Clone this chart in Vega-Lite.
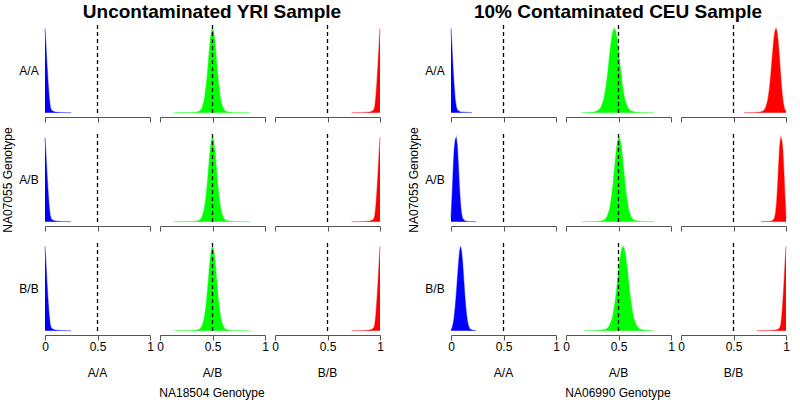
{
  "$schema": "https://vega.github.io/schema/vega-lite/v6.json",
  "background": "white",
  "padding": {"left": 1, "top": 3, "right": 4, "bottom": 2},
  "config": {"font": "Liberation Sans", "view": {"stroke": null}},
  "spacing": 23,
  "datasets": {
    "d": [
      {"s":"L","r":"A/A","c":"A/A","x":0,"y":1},{"s":"L","r":"A/A","c":"A/A","x":0.01,"y":0.78},{"s":"L","r":"A/A","c":"A/A","x":0.02,"y":0.55},{"s":"L","r":"A/A","c":"A/A","x":0.03,"y":0.35},{"s":"L","r":"A/A","c":"A/A","x":0.04,"y":0.18},{"s":"L","r":"A/A","c":"A/A","x":0.05,"y":0.07},{"s":"L","r":"A/A","c":"A/A","x":0.06,"y":0.03},{"s":"L","r":"A/A","c":"A/A","x":0.08,"y":0.012},{"s":"L","r":"A/A","c":"A/A","x":0.1,"y":0.006},{"s":"L","r":"A/A","c":"A/A","x":0.15,"y":0.002},{"s":"L","r":"A/A","c":"A/A","x":0.25,"y":0},
      {"s":"L","r":"A/A","c":"A/B","x":0.13,"y":0},{"s":"L","r":"A/A","c":"A/B","x":0.2,"y":0.001},{"s":"L","r":"A/A","c":"A/B","x":0.3,"y":0.002},{"s":"L","r":"A/A","c":"A/B","x":0.35,"y":0.007},{"s":"L","r":"A/A","c":"A/B","x":0.38,"y":0.02},{"s":"L","r":"A/A","c":"A/B","x":0.4,"y":0.055},{"s":"L","r":"A/A","c":"A/B","x":0.42,"y":0.14},{"s":"L","r":"A/A","c":"A/B","x":0.43,"y":0.22},{"s":"L","r":"A/A","c":"A/B","x":0.44,"y":0.32},{"s":"L","r":"A/A","c":"A/B","x":0.45,"y":0.45},{"s":"L","r":"A/A","c":"A/B","x":0.46,"y":0.6},{"s":"L","r":"A/A","c":"A/B","x":0.47,"y":0.75},{"s":"L","r":"A/A","c":"A/B","x":0.48,"y":0.88},{"s":"L","r":"A/A","c":"A/B","x":0.49,"y":0.97},{"s":"L","r":"A/A","c":"A/B","x":0.5,"y":1},{"s":"L","r":"A/A","c":"A/B","x":0.51,"y":0.97},{"s":"L","r":"A/A","c":"A/B","x":0.52,"y":0.88},{"s":"L","r":"A/A","c":"A/B","x":0.53,"y":0.75},{"s":"L","r":"A/A","c":"A/B","x":0.54,"y":0.6},{"s":"L","r":"A/A","c":"A/B","x":0.55,"y":0.45},{"s":"L","r":"A/A","c":"A/B","x":0.56,"y":0.32},{"s":"L","r":"A/A","c":"A/B","x":0.57,"y":0.22},{"s":"L","r":"A/A","c":"A/B","x":0.58,"y":0.14},{"s":"L","r":"A/A","c":"A/B","x":0.6,"y":0.055},{"s":"L","r":"A/A","c":"A/B","x":0.62,"y":0.02},{"s":"L","r":"A/A","c":"A/B","x":0.65,"y":0.007},{"s":"L","r":"A/A","c":"A/B","x":0.7,"y":0.002},{"s":"L","r":"A/A","c":"A/B","x":0.86,"y":0},
      {"s":"L","r":"A/A","c":"B/B","x":0.73,"y":0},{"s":"L","r":"A/A","c":"B/B","x":0.85,"y":0.002},{"s":"L","r":"A/A","c":"B/B","x":0.9,"y":0.006},{"s":"L","r":"A/A","c":"B/B","x":0.92,"y":0.012},{"s":"L","r":"A/A","c":"B/B","x":0.94,"y":0.03},{"s":"L","r":"A/A","c":"B/B","x":0.95,"y":0.07},{"s":"L","r":"A/A","c":"B/B","x":0.96,"y":0.18},{"s":"L","r":"A/A","c":"B/B","x":0.97,"y":0.35},{"s":"L","r":"A/A","c":"B/B","x":0.98,"y":0.55},{"s":"L","r":"A/A","c":"B/B","x":0.99,"y":0.78},{"s":"L","r":"A/A","c":"B/B","x":1,"y":1},

      {"s":"L","r":"A/B","c":"A/A","x":0,"y":1},{"s":"L","r":"A/B","c":"A/A","x":0.01,"y":0.78},{"s":"L","r":"A/B","c":"A/A","x":0.02,"y":0.55},{"s":"L","r":"A/B","c":"A/A","x":0.03,"y":0.35},{"s":"L","r":"A/B","c":"A/A","x":0.04,"y":0.18},{"s":"L","r":"A/B","c":"A/A","x":0.05,"y":0.07},{"s":"L","r":"A/B","c":"A/A","x":0.06,"y":0.03},{"s":"L","r":"A/B","c":"A/A","x":0.08,"y":0.012},{"s":"L","r":"A/B","c":"A/A","x":0.1,"y":0.006},{"s":"L","r":"A/B","c":"A/A","x":0.15,"y":0.002},{"s":"L","r":"A/B","c":"A/A","x":0.25,"y":0},
      {"s":"L","r":"A/B","c":"A/B","x":0.13,"y":0},{"s":"L","r":"A/B","c":"A/B","x":0.2,"y":0.001},{"s":"L","r":"A/B","c":"A/B","x":0.3,"y":0.002},{"s":"L","r":"A/B","c":"A/B","x":0.35,"y":0.007},{"s":"L","r":"A/B","c":"A/B","x":0.38,"y":0.02},{"s":"L","r":"A/B","c":"A/B","x":0.4,"y":0.055},{"s":"L","r":"A/B","c":"A/B","x":0.42,"y":0.14},{"s":"L","r":"A/B","c":"A/B","x":0.43,"y":0.22},{"s":"L","r":"A/B","c":"A/B","x":0.44,"y":0.32},{"s":"L","r":"A/B","c":"A/B","x":0.45,"y":0.45},{"s":"L","r":"A/B","c":"A/B","x":0.46,"y":0.6},{"s":"L","r":"A/B","c":"A/B","x":0.47,"y":0.75},{"s":"L","r":"A/B","c":"A/B","x":0.48,"y":0.88},{"s":"L","r":"A/B","c":"A/B","x":0.49,"y":0.97},{"s":"L","r":"A/B","c":"A/B","x":0.5,"y":1},{"s":"L","r":"A/B","c":"A/B","x":0.51,"y":0.97},{"s":"L","r":"A/B","c":"A/B","x":0.52,"y":0.88},{"s":"L","r":"A/B","c":"A/B","x":0.53,"y":0.75},{"s":"L","r":"A/B","c":"A/B","x":0.54,"y":0.6},{"s":"L","r":"A/B","c":"A/B","x":0.55,"y":0.45},{"s":"L","r":"A/B","c":"A/B","x":0.56,"y":0.32},{"s":"L","r":"A/B","c":"A/B","x":0.57,"y":0.22},{"s":"L","r":"A/B","c":"A/B","x":0.58,"y":0.14},{"s":"L","r":"A/B","c":"A/B","x":0.6,"y":0.055},{"s":"L","r":"A/B","c":"A/B","x":0.62,"y":0.02},{"s":"L","r":"A/B","c":"A/B","x":0.65,"y":0.007},{"s":"L","r":"A/B","c":"A/B","x":0.7,"y":0.002},{"s":"L","r":"A/B","c":"A/B","x":0.86,"y":0},
      {"s":"L","r":"A/B","c":"B/B","x":0.73,"y":0},{"s":"L","r":"A/B","c":"B/B","x":0.85,"y":0.002},{"s":"L","r":"A/B","c":"B/B","x":0.9,"y":0.006},{"s":"L","r":"A/B","c":"B/B","x":0.92,"y":0.012},{"s":"L","r":"A/B","c":"B/B","x":0.94,"y":0.03},{"s":"L","r":"A/B","c":"B/B","x":0.95,"y":0.07},{"s":"L","r":"A/B","c":"B/B","x":0.96,"y":0.18},{"s":"L","r":"A/B","c":"B/B","x":0.97,"y":0.35},{"s":"L","r":"A/B","c":"B/B","x":0.98,"y":0.55},{"s":"L","r":"A/B","c":"B/B","x":0.99,"y":0.78},{"s":"L","r":"A/B","c":"B/B","x":1,"y":1},

      {"s":"L","r":"B/B","c":"A/A","x":0,"y":1},{"s":"L","r":"B/B","c":"A/A","x":0.01,"y":0.78},{"s":"L","r":"B/B","c":"A/A","x":0.02,"y":0.55},{"s":"L","r":"B/B","c":"A/A","x":0.03,"y":0.35},{"s":"L","r":"B/B","c":"A/A","x":0.04,"y":0.18},{"s":"L","r":"B/B","c":"A/A","x":0.05,"y":0.07},{"s":"L","r":"B/B","c":"A/A","x":0.06,"y":0.03},{"s":"L","r":"B/B","c":"A/A","x":0.08,"y":0.012},{"s":"L","r":"B/B","c":"A/A","x":0.1,"y":0.006},{"s":"L","r":"B/B","c":"A/A","x":0.15,"y":0.002},{"s":"L","r":"B/B","c":"A/A","x":0.25,"y":0},
      {"s":"L","r":"B/B","c":"A/B","x":0.13,"y":0},{"s":"L","r":"B/B","c":"A/B","x":0.2,"y":0.001},{"s":"L","r":"B/B","c":"A/B","x":0.3,"y":0.002},{"s":"L","r":"B/B","c":"A/B","x":0.35,"y":0.007},{"s":"L","r":"B/B","c":"A/B","x":0.38,"y":0.02},{"s":"L","r":"B/B","c":"A/B","x":0.4,"y":0.055},{"s":"L","r":"B/B","c":"A/B","x":0.42,"y":0.14},{"s":"L","r":"B/B","c":"A/B","x":0.43,"y":0.22},{"s":"L","r":"B/B","c":"A/B","x":0.44,"y":0.32},{"s":"L","r":"B/B","c":"A/B","x":0.45,"y":0.45},{"s":"L","r":"B/B","c":"A/B","x":0.46,"y":0.6},{"s":"L","r":"B/B","c":"A/B","x":0.47,"y":0.75},{"s":"L","r":"B/B","c":"A/B","x":0.48,"y":0.88},{"s":"L","r":"B/B","c":"A/B","x":0.49,"y":0.97},{"s":"L","r":"B/B","c":"A/B","x":0.5,"y":1},{"s":"L","r":"B/B","c":"A/B","x":0.51,"y":0.97},{"s":"L","r":"B/B","c":"A/B","x":0.52,"y":0.88},{"s":"L","r":"B/B","c":"A/B","x":0.53,"y":0.75},{"s":"L","r":"B/B","c":"A/B","x":0.54,"y":0.6},{"s":"L","r":"B/B","c":"A/B","x":0.55,"y":0.45},{"s":"L","r":"B/B","c":"A/B","x":0.56,"y":0.32},{"s":"L","r":"B/B","c":"A/B","x":0.57,"y":0.22},{"s":"L","r":"B/B","c":"A/B","x":0.58,"y":0.14},{"s":"L","r":"B/B","c":"A/B","x":0.6,"y":0.055},{"s":"L","r":"B/B","c":"A/B","x":0.62,"y":0.02},{"s":"L","r":"B/B","c":"A/B","x":0.65,"y":0.007},{"s":"L","r":"B/B","c":"A/B","x":0.7,"y":0.002},{"s":"L","r":"B/B","c":"A/B","x":0.86,"y":0},
      {"s":"L","r":"B/B","c":"B/B","x":0.73,"y":0},{"s":"L","r":"B/B","c":"B/B","x":0.85,"y":0.002},{"s":"L","r":"B/B","c":"B/B","x":0.9,"y":0.006},{"s":"L","r":"B/B","c":"B/B","x":0.92,"y":0.012},{"s":"L","r":"B/B","c":"B/B","x":0.94,"y":0.03},{"s":"L","r":"B/B","c":"B/B","x":0.95,"y":0.07},{"s":"L","r":"B/B","c":"B/B","x":0.96,"y":0.18},{"s":"L","r":"B/B","c":"B/B","x":0.97,"y":0.35},{"s":"L","r":"B/B","c":"B/B","x":0.98,"y":0.55},{"s":"L","r":"B/B","c":"B/B","x":0.99,"y":0.78},{"s":"L","r":"B/B","c":"B/B","x":1,"y":1},

      {"s":"R","r":"A/A","c":"A/A","x":0,"y":1},{"s":"R","r":"A/A","c":"A/A","x":0.01,"y":0.76},{"s":"R","r":"A/A","c":"A/A","x":0.02,"y":0.52},{"s":"R","r":"A/A","c":"A/A","x":0.03,"y":0.32},{"s":"R","r":"A/A","c":"A/A","x":0.04,"y":0.16},{"s":"R","r":"A/A","c":"A/A","x":0.05,"y":0.07},{"s":"R","r":"A/A","c":"A/A","x":0.06,"y":0.03},{"s":"R","r":"A/A","c":"A/A","x":0.08,"y":0.012},{"s":"R","r":"A/A","c":"A/A","x":0.1,"y":0.005},{"s":"R","r":"A/A","c":"A/A","x":0.2,"y":0},
      {"s":"R","r":"A/A","c":"A/B","x":0.145,"y":0},{"s":"R","r":"A/A","c":"A/B","x":0.2,"y":0.002},{"s":"R","r":"A/A","c":"A/B","x":0.265,"y":0.007},{"s":"R","r":"A/A","c":"A/B","x":0.3,"y":0.02},{"s":"R","r":"A/A","c":"A/B","x":0.33,"y":0.055},{"s":"R","r":"A/A","c":"A/B","x":0.356,"y":0.14},{"s":"R","r":"A/A","c":"A/B","x":0.369,"y":0.22},{"s":"R","r":"A/A","c":"A/B","x":0.382,"y":0.32},{"s":"R","r":"A/A","c":"A/B","x":0.395,"y":0.45},{"s":"R","r":"A/A","c":"A/B","x":0.408,"y":0.6},{"s":"R","r":"A/A","c":"A/B","x":0.421,"y":0.75},{"s":"R","r":"A/A","c":"A/B","x":0.434,"y":0.88},{"s":"R","r":"A/A","c":"A/B","x":0.447,"y":0.97},{"s":"R","r":"A/A","c":"A/B","x":0.46,"y":1},{"s":"R","r":"A/A","c":"A/B","x":0.473,"y":0.97},{"s":"R","r":"A/A","c":"A/B","x":0.486,"y":0.88},{"s":"R","r":"A/A","c":"A/B","x":0.499,"y":0.75},{"s":"R","r":"A/A","c":"A/B","x":0.512,"y":0.6},{"s":"R","r":"A/A","c":"A/B","x":0.525,"y":0.45},{"s":"R","r":"A/A","c":"A/B","x":0.538,"y":0.32},{"s":"R","r":"A/A","c":"A/B","x":0.551,"y":0.22},{"s":"R","r":"A/A","c":"A/B","x":0.564,"y":0.14},{"s":"R","r":"A/A","c":"A/B","x":0.59,"y":0.055},{"s":"R","r":"A/A","c":"A/B","x":0.616,"y":0.02},{"s":"R","r":"A/A","c":"A/B","x":0.655,"y":0.007},{"s":"R","r":"A/A","c":"A/B","x":0.72,"y":0.002},{"s":"R","r":"A/A","c":"A/B","x":0.84,"y":0},
      {"s":"R","r":"A/A","c":"B/B","x":0.6,"y":0},{"s":"R","r":"A/A","c":"B/B","x":0.705,"y":0.002},{"s":"R","r":"A/A","c":"B/B","x":0.755,"y":0.007},{"s":"R","r":"A/A","c":"B/B","x":0.785,"y":0.02},{"s":"R","r":"A/A","c":"B/B","x":0.805,"y":0.055},{"s":"R","r":"A/A","c":"B/B","x":0.825,"y":0.14},{"s":"R","r":"A/A","c":"B/B","x":0.835,"y":0.22},{"s":"R","r":"A/A","c":"B/B","x":0.845,"y":0.32},{"s":"R","r":"A/A","c":"B/B","x":0.855,"y":0.45},{"s":"R","r":"A/A","c":"B/B","x":0.865,"y":0.6},{"s":"R","r":"A/A","c":"B/B","x":0.875,"y":0.75},{"s":"R","r":"A/A","c":"B/B","x":0.885,"y":0.88},{"s":"R","r":"A/A","c":"B/B","x":0.895,"y":0.97},{"s":"R","r":"A/A","c":"B/B","x":0.905,"y":1},{"s":"R","r":"A/A","c":"B/B","x":0.915,"y":0.96},{"s":"R","r":"A/A","c":"B/B","x":0.925,"y":0.85},{"s":"R","r":"A/A","c":"B/B","x":0.935,"y":0.7},{"s":"R","r":"A/A","c":"B/B","x":0.945,"y":0.52},{"s":"R","r":"A/A","c":"B/B","x":0.955,"y":0.35},{"s":"R","r":"A/A","c":"B/B","x":0.965,"y":0.21},{"s":"R","r":"A/A","c":"B/B","x":0.975,"y":0.11},{"s":"R","r":"A/A","c":"B/B","x":0.985,"y":0.05},{"s":"R","r":"A/A","c":"B/B","x":1,"y":0.01},

      {"s":"R","r":"A/B","c":"A/A","x":0,"y":0.05},{"s":"R","r":"A/B","c":"A/A","x":0.01,"y":0.3},{"s":"R","r":"A/B","c":"A/A","x":0.02,"y":0.6},{"s":"R","r":"A/B","c":"A/A","x":0.03,"y":0.85},{"s":"R","r":"A/B","c":"A/A","x":0.04,"y":0.97},{"s":"R","r":"A/B","c":"A/A","x":0.05,"y":1},{"s":"R","r":"A/B","c":"A/A","x":0.06,"y":0.9},{"s":"R","r":"A/B","c":"A/A","x":0.07,"y":0.68},{"s":"R","r":"A/B","c":"A/A","x":0.08,"y":0.42},{"s":"R","r":"A/B","c":"A/A","x":0.09,"y":0.22},{"s":"R","r":"A/B","c":"A/A","x":0.1,"y":0.1},{"s":"R","r":"A/B","c":"A/A","x":0.11,"y":0.04},{"s":"R","r":"A/B","c":"A/A","x":0.13,"y":0.01},{"s":"R","r":"A/B","c":"A/A","x":0.16,"y":0.003},{"s":"R","r":"A/B","c":"A/A","x":0.24,"y":0},
      {"s":"R","r":"A/B","c":"A/B","x":0.15,"y":0},{"s":"R","r":"A/B","c":"A/B","x":0.275,"y":0.002},{"s":"R","r":"A/B","c":"A/B","x":0.333,"y":0.007},{"s":"R","r":"A/B","c":"A/B","x":0.367,"y":0.02},{"s":"R","r":"A/B","c":"A/B","x":0.39,"y":0.055},{"s":"R","r":"A/B","c":"A/B","x":0.413,"y":0.14},{"s":"R","r":"A/B","c":"A/B","x":0.425,"y":0.22},{"s":"R","r":"A/B","c":"A/B","x":0.436,"y":0.32},{"s":"R","r":"A/B","c":"A/B","x":0.448,"y":0.45},{"s":"R","r":"A/B","c":"A/B","x":0.459,"y":0.6},{"s":"R","r":"A/B","c":"A/B","x":0.471,"y":0.75},{"s":"R","r":"A/B","c":"A/B","x":0.482,"y":0.88},{"s":"R","r":"A/B","c":"A/B","x":0.494,"y":0.97},{"s":"R","r":"A/B","c":"A/B","x":0.505,"y":1},{"s":"R","r":"A/B","c":"A/B","x":0.517,"y":0.97},{"s":"R","r":"A/B","c":"A/B","x":0.528,"y":0.88},{"s":"R","r":"A/B","c":"A/B","x":0.54,"y":0.75},{"s":"R","r":"A/B","c":"A/B","x":0.551,"y":0.6},{"s":"R","r":"A/B","c":"A/B","x":0.563,"y":0.45},{"s":"R","r":"A/B","c":"A/B","x":0.574,"y":0.32},{"s":"R","r":"A/B","c":"A/B","x":0.586,"y":0.22},{"s":"R","r":"A/B","c":"A/B","x":0.597,"y":0.14},{"s":"R","r":"A/B","c":"A/B","x":0.62,"y":0.055},{"s":"R","r":"A/B","c":"A/B","x":0.643,"y":0.02},{"s":"R","r":"A/B","c":"A/B","x":0.678,"y":0.007},{"s":"R","r":"A/B","c":"A/B","x":0.735,"y":0.002},{"s":"R","r":"A/B","c":"A/B","x":0.84,"y":0},
      {"s":"R","r":"A/B","c":"B/B","x":0.76,"y":0},{"s":"R","r":"A/B","c":"B/B","x":0.84,"y":0.003},{"s":"R","r":"A/B","c":"B/B","x":0.87,"y":0.01},{"s":"R","r":"A/B","c":"B/B","x":0.89,"y":0.04},{"s":"R","r":"A/B","c":"B/B","x":0.9,"y":0.1},{"s":"R","r":"A/B","c":"B/B","x":0.91,"y":0.22},{"s":"R","r":"A/B","c":"B/B","x":0.92,"y":0.42},{"s":"R","r":"A/B","c":"B/B","x":0.93,"y":0.68},{"s":"R","r":"A/B","c":"B/B","x":0.94,"y":0.9},{"s":"R","r":"A/B","c":"B/B","x":0.95,"y":1},{"s":"R","r":"A/B","c":"B/B","x":0.96,"y":0.97},{"s":"R","r":"A/B","c":"B/B","x":0.97,"y":0.85},{"s":"R","r":"A/B","c":"B/B","x":0.98,"y":0.6},{"s":"R","r":"A/B","c":"B/B","x":0.99,"y":0.3},{"s":"R","r":"A/B","c":"B/B","x":1,"y":0.05},

      {"s":"R","r":"B/B","c":"A/A","x":0,"y":0.01},{"s":"R","r":"B/B","c":"A/A","x":0.01,"y":0.03},{"s":"R","r":"B/B","c":"A/A","x":0.02,"y":0.08},{"s":"R","r":"B/B","c":"A/A","x":0.03,"y":0.16},{"s":"R","r":"B/B","c":"A/A","x":0.04,"y":0.28},{"s":"R","r":"B/B","c":"A/A","x":0.05,"y":0.43},{"s":"R","r":"B/B","c":"A/A","x":0.06,"y":0.6},{"s":"R","r":"B/B","c":"A/A","x":0.07,"y":0.77},{"s":"R","r":"B/B","c":"A/A","x":0.08,"y":0.92},{"s":"R","r":"B/B","c":"A/A","x":0.09,"y":1},{"s":"R","r":"B/B","c":"A/A","x":0.1,"y":0.95},{"s":"R","r":"B/B","c":"A/A","x":0.11,"y":0.82},{"s":"R","r":"B/B","c":"A/A","x":0.12,"y":0.64},{"s":"R","r":"B/B","c":"A/A","x":0.13,"y":0.45},{"s":"R","r":"B/B","c":"A/A","x":0.14,"y":0.29},{"s":"R","r":"B/B","c":"A/A","x":0.15,"y":0.17},{"s":"R","r":"B/B","c":"A/A","x":0.16,"y":0.09},{"s":"R","r":"B/B","c":"A/A","x":0.17,"y":0.045},{"s":"R","r":"B/B","c":"A/A","x":0.18,"y":0.02},{"s":"R","r":"B/B","c":"A/A","x":0.2,"y":0.006},{"s":"R","r":"B/B","c":"A/A","x":0.24,"y":0},
      {"s":"R","r":"B/B","c":"A/B","x":0.17,"y":0},{"s":"R","r":"B/B","c":"A/B","x":0.283,"y":0.002},{"s":"R","r":"B/B","c":"A/B","x":0.348,"y":0.007},{"s":"R","r":"B/B","c":"A/B","x":0.387,"y":0.02},{"s":"R","r":"B/B","c":"A/B","x":0.413,"y":0.055},{"s":"R","r":"B/B","c":"A/B","x":0.439,"y":0.14},{"s":"R","r":"B/B","c":"A/B","x":0.452,"y":0.22},{"s":"R","r":"B/B","c":"A/B","x":0.465,"y":0.32},{"s":"R","r":"B/B","c":"A/B","x":0.478,"y":0.45},{"s":"R","r":"B/B","c":"A/B","x":0.491,"y":0.6},{"s":"R","r":"B/B","c":"A/B","x":0.504,"y":0.75},{"s":"R","r":"B/B","c":"A/B","x":0.517,"y":0.88},{"s":"R","r":"B/B","c":"A/B","x":0.53,"y":0.97},{"s":"R","r":"B/B","c":"A/B","x":0.543,"y":1},{"s":"R","r":"B/B","c":"A/B","x":0.556,"y":0.97},{"s":"R","r":"B/B","c":"A/B","x":0.569,"y":0.88},{"s":"R","r":"B/B","c":"A/B","x":0.582,"y":0.75},{"s":"R","r":"B/B","c":"A/B","x":0.595,"y":0.6},{"s":"R","r":"B/B","c":"A/B","x":0.608,"y":0.45},{"s":"R","r":"B/B","c":"A/B","x":0.621,"y":0.32},{"s":"R","r":"B/B","c":"A/B","x":0.634,"y":0.22},{"s":"R","r":"B/B","c":"A/B","x":0.647,"y":0.14},{"s":"R","r":"B/B","c":"A/B","x":0.673,"y":0.055},{"s":"R","r":"B/B","c":"A/B","x":0.699,"y":0.02},{"s":"R","r":"B/B","c":"A/B","x":0.738,"y":0.007},{"s":"R","r":"B/B","c":"A/B","x":0.803,"y":0.002},{"s":"R","r":"B/B","c":"A/B","x":0.83,"y":0},
      {"s":"R","r":"B/B","c":"B/B","x":0.72,"y":0},{"s":"R","r":"B/B","c":"B/B","x":0.85,"y":0.002},{"s":"R","r":"B/B","c":"B/B","x":0.9,"y":0.006},{"s":"R","r":"B/B","c":"B/B","x":0.92,"y":0.012},{"s":"R","r":"B/B","c":"B/B","x":0.94,"y":0.03},{"s":"R","r":"B/B","c":"B/B","x":0.95,"y":0.07},{"s":"R","r":"B/B","c":"B/B","x":0.96,"y":0.18},{"s":"R","r":"B/B","c":"B/B","x":0.97,"y":0.35},{"s":"R","r":"B/B","c":"B/B","x":0.98,"y":0.55},{"s":"R","r":"B/B","c":"B/B","x":0.99,"y":0.78},{"s":"R","r":"B/B","c":"B/B","x":1,"y":1}
    ]
  },
  "hconcat": [
    {
      "spacing": 3,
      "vconcat": [
        {
          "data": {"name": "d"},
          "transform": [{"filter": "datum.s == 'L' && datum.r == 'A/A'"}],
          "facet": {
            "row": {"field": "r", "type": "nominal", "title": "NA07055 Genotype", "header": {"labelAngle": 0, "labelAlign": "right", "labelFontSize": 12, "labelPadding": -16, "titleFontSize": 12, "titleFontWeight": "normal", "titleColor": "transparent", "titlePadding": -6}},
            "column": {"field": "c", "type": "nominal", "title": "Uncontaminated YRI Sample", "header": {"labels": false, "titleFontSize": 19, "titleFontWeight": "bold", "titlePadding": -8, "titleColor": "black"}}
          },
          "spacing": {"column": 7, "row": 0},
          "spec": {
            "width": 105, "height": 91,
            "layer": [
              {"mark": {"type": "area"}, "encoding": {
                "x": {"field": "x", "type": "quantitative", "scale": {"domain": [0, 1], "nice": false, "zero": false}, "axis": {"labels": false, "title": null, "values": [0, 0.5, 1], "grid": false, "domainColor": "#555", "tickColor": "#555", "tickSize": 5}},
                "y": {"field": "y", "type": "quantitative", "stack": null, "scale": {"domain": [-0.04, 1.04], "nice": false, "zero": false}, "axis": null},
                "y2": {"datum": 0},
                "color": {"field": "c", "type": "nominal", "scale": {"domain": ["A/A", "A/B", "B/B"], "range": ["#0000ff", "#00ff00", "#ff0000"]}, "legend": null}}},
              {"mark": {"type": "line", "strokeWidth": 1.2, "opacity": 0.4}, "encoding": {
                "x": {"field": "x", "type": "quantitative"},
                "y": {"field": "y", "type": "quantitative", "stack": null},
                "color": {"field": "c", "type": "nominal", "legend": null}}},
              {"transform": [{"aggregate": [{"op": "count", "as": "n"}], "groupby": ["r", "c"]}],
               "mark": {"type": "rule", "color": "black", "strokeDash": [4, 3], "strokeWidth": 1.3},
               "encoding": {"x": {"datum": 0.5}}}
            ]
          }
        },
        {
          "data": {"name": "d"},
          "transform": [{"filter": "datum.s == 'L' && datum.r == 'A/B'"}],
          "facet": {
            "row": {"field": "r", "type": "nominal", "title": "NA07055 Genotype", "header": {"labelAngle": 0, "labelAlign": "right", "labelFontSize": 12, "labelPadding": -16, "titleFontSize": 12, "titleFontWeight": "normal", "titleColor": "black", "titlePadding": -6}},
            "column": {"field": "c", "type": "nominal", "title": null, "header": {"labels": false}}
          },
          "spacing": {"column": 7, "row": 0},
          "spec": {
            "width": 105, "height": 91,
            "layer": [
              {"mark": {"type": "area"}, "encoding": {
                "x": {"field": "x", "type": "quantitative", "scale": {"domain": [0, 1], "nice": false, "zero": false}, "axis": {"labels": false, "title": null, "values": [0, 0.5, 1], "grid": false, "domainColor": "#555", "tickColor": "#555", "tickSize": 5}},
                "y": {"field": "y", "type": "quantitative", "stack": null, "scale": {"domain": [-0.04, 1.04], "nice": false, "zero": false}, "axis": null},
                "y2": {"datum": 0},
                "color": {"field": "c", "type": "nominal", "scale": {"domain": ["A/A", "A/B", "B/B"], "range": ["#0000ff", "#00ff00", "#ff0000"]}, "legend": null}}},
              {"mark": {"type": "line", "strokeWidth": 1.2, "opacity": 0.4}, "encoding": {
                "x": {"field": "x", "type": "quantitative"},
                "y": {"field": "y", "type": "quantitative", "stack": null},
                "color": {"field": "c", "type": "nominal", "legend": null}}},
              {"transform": [{"aggregate": [{"op": "count", "as": "n"}], "groupby": ["r", "c"]}],
               "mark": {"type": "rule", "color": "black", "strokeDash": [4, 3], "strokeWidth": 1.3},
               "encoding": {"x": {"datum": 0.5}}}
            ]
          }
        },
        {
          "data": {"name": "d"},
          "transform": [{"filter": "datum.s == 'L' && datum.r == 'B/B'"}],
          "facet": {
            "row": {"field": "r", "type": "nominal", "title": "NA07055 Genotype", "header": {"labelAngle": 0, "labelAlign": "right", "labelFontSize": 12, "labelPadding": -16, "titleFontSize": 12, "titleFontWeight": "normal", "titleColor": "transparent", "titlePadding": -6}},
            "column": {"field": "c", "type": "nominal", "title": "NA18504 Genotype", "header": {"labelOrient": "bottom", "titleOrient": "bottom", "labelFontSize": 12, "labelPadding": 16, "titleFontSize": 12, "titleFontWeight": "normal", "titlePadding": -1}}
          },
          "spacing": {"column": 7, "row": 0},
          "spec": {
            "width": 105, "height": 91,
            "layer": [
              {"mark": {"type": "area"}, "encoding": {
                "x": {"field": "x", "type": "quantitative", "scale": {"domain": [0, 1], "nice": false, "zero": false}, "axis": {"labels": true, "format": "~g", "labelFlush": false, "labelOverlap": false, "labelFontSize": 12, "labelColor": "black", "labelPadding": 1, "title": null, "values": [0, 0.5, 1], "grid": false, "domainColor": "#555", "tickColor": "#555", "tickSize": 5}},
                "y": {"field": "y", "type": "quantitative", "stack": null, "scale": {"domain": [-0.04, 1.04], "nice": false, "zero": false}, "axis": null},
                "y2": {"datum": 0},
                "color": {"field": "c", "type": "nominal", "scale": {"domain": ["A/A", "A/B", "B/B"], "range": ["#0000ff", "#00ff00", "#ff0000"]}, "legend": null}}},
              {"mark": {"type": "line", "strokeWidth": 1.2, "opacity": 0.4}, "encoding": {
                "x": {"field": "x", "type": "quantitative"},
                "y": {"field": "y", "type": "quantitative", "stack": null},
                "color": {"field": "c", "type": "nominal", "legend": null}}},
              {"transform": [{"aggregate": [{"op": "count", "as": "n"}], "groupby": ["r", "c"]}],
               "mark": {"type": "rule", "color": "black", "strokeDash": [4, 3], "strokeWidth": 1.3},
               "encoding": {"x": {"datum": 0.5}}}
            ]
          }
        }
      ]
    },
    {
      "spacing": 3,
      "vconcat": [
        {
          "data": {"name": "d"},
          "transform": [{"filter": "datum.s == 'R' && datum.r == 'A/A'"}],
          "facet": {
            "row": {"field": "r", "type": "nominal", "title": "NA07055 Genotype", "header": {"labelAngle": 0, "labelAlign": "right", "labelFontSize": 12, "labelPadding": -16, "titleFontSize": 12, "titleFontWeight": "normal", "titleColor": "transparent", "titlePadding": -6}},
            "column": {"field": "c", "type": "nominal", "title": "10% Contaminated CEU Sample", "header": {"labels": false, "titleFontSize": 19, "titleFontWeight": "bold", "titlePadding": -8, "titleColor": "black"}}
          },
          "spacing": {"column": 7, "row": 0},
          "spec": {
            "width": 105, "height": 91,
            "layer": [
              {"mark": {"type": "area"}, "encoding": {
                "x": {"field": "x", "type": "quantitative", "scale": {"domain": [0, 1], "nice": false, "zero": false}, "axis": {"labels": false, "title": null, "values": [0, 0.5, 1], "grid": false, "domainColor": "#555", "tickColor": "#555", "tickSize": 5}},
                "y": {"field": "y", "type": "quantitative", "stack": null, "scale": {"domain": [-0.04, 1.04], "nice": false, "zero": false}, "axis": null},
                "y2": {"datum": 0},
                "color": {"field": "c", "type": "nominal", "scale": {"domain": ["A/A", "A/B", "B/B"], "range": ["#0000ff", "#00ff00", "#ff0000"]}, "legend": null}}},
              {"mark": {"type": "line", "strokeWidth": 1.2, "opacity": 0.4}, "encoding": {
                "x": {"field": "x", "type": "quantitative"},
                "y": {"field": "y", "type": "quantitative", "stack": null},
                "color": {"field": "c", "type": "nominal", "legend": null}}},
              {"transform": [{"aggregate": [{"op": "count", "as": "n"}], "groupby": ["r", "c"]}],
               "mark": {"type": "rule", "color": "black", "strokeDash": [4, 3], "strokeWidth": 1.3},
               "encoding": {"x": {"datum": 0.5}}}
            ]
          }
        },
        {
          "data": {"name": "d"},
          "transform": [{"filter": "datum.s == 'R' && datum.r == 'A/B'"}],
          "facet": {
            "row": {"field": "r", "type": "nominal", "title": "NA07055 Genotype", "header": {"labelAngle": 0, "labelAlign": "right", "labelFontSize": 12, "labelPadding": -16, "titleFontSize": 12, "titleFontWeight": "normal", "titleColor": "black", "titlePadding": -6}},
            "column": {"field": "c", "type": "nominal", "title": null, "header": {"labels": false}}
          },
          "spacing": {"column": 7, "row": 0},
          "spec": {
            "width": 105, "height": 91,
            "layer": [
              {"mark": {"type": "area"}, "encoding": {
                "x": {"field": "x", "type": "quantitative", "scale": {"domain": [0, 1], "nice": false, "zero": false}, "axis": {"labels": false, "title": null, "values": [0, 0.5, 1], "grid": false, "domainColor": "#555", "tickColor": "#555", "tickSize": 5}},
                "y": {"field": "y", "type": "quantitative", "stack": null, "scale": {"domain": [-0.04, 1.04], "nice": false, "zero": false}, "axis": null},
                "y2": {"datum": 0},
                "color": {"field": "c", "type": "nominal", "scale": {"domain": ["A/A", "A/B", "B/B"], "range": ["#0000ff", "#00ff00", "#ff0000"]}, "legend": null}}},
              {"mark": {"type": "line", "strokeWidth": 1.2, "opacity": 0.4}, "encoding": {
                "x": {"field": "x", "type": "quantitative"},
                "y": {"field": "y", "type": "quantitative", "stack": null},
                "color": {"field": "c", "type": "nominal", "legend": null}}},
              {"transform": [{"aggregate": [{"op": "count", "as": "n"}], "groupby": ["r", "c"]}],
               "mark": {"type": "rule", "color": "black", "strokeDash": [4, 3], "strokeWidth": 1.3},
               "encoding": {"x": {"datum": 0.5}}}
            ]
          }
        },
        {
          "data": {"name": "d"},
          "transform": [{"filter": "datum.s == 'R' && datum.r == 'B/B'"}],
          "facet": {
            "row": {"field": "r", "type": "nominal", "title": "NA07055 Genotype", "header": {"labelAngle": 0, "labelAlign": "right", "labelFontSize": 12, "labelPadding": -16, "titleFontSize": 12, "titleFontWeight": "normal", "titleColor": "transparent", "titlePadding": -6}},
            "column": {"field": "c", "type": "nominal", "title": "NA06990 Genotype", "header": {"labelOrient": "bottom", "titleOrient": "bottom", "labelFontSize": 12, "labelPadding": 16, "titleFontSize": 12, "titleFontWeight": "normal", "titlePadding": -1}}
          },
          "spacing": {"column": 7, "row": 0},
          "spec": {
            "width": 105, "height": 91,
            "layer": [
              {"mark": {"type": "area"}, "encoding": {
                "x": {"field": "x", "type": "quantitative", "scale": {"domain": [0, 1], "nice": false, "zero": false}, "axis": {"labels": true, "format": "~g", "labelFlush": false, "labelOverlap": false, "labelFontSize": 12, "labelColor": "black", "labelPadding": 1, "title": null, "values": [0, 0.5, 1], "grid": false, "domainColor": "#555", "tickColor": "#555", "tickSize": 5}},
                "y": {"field": "y", "type": "quantitative", "stack": null, "scale": {"domain": [-0.04, 1.04], "nice": false, "zero": false}, "axis": null},
                "y2": {"datum": 0},
                "color": {"field": "c", "type": "nominal", "scale": {"domain": ["A/A", "A/B", "B/B"], "range": ["#0000ff", "#00ff00", "#ff0000"]}, "legend": null}}},
              {"mark": {"type": "line", "strokeWidth": 1.2, "opacity": 0.4}, "encoding": {
                "x": {"field": "x", "type": "quantitative"},
                "y": {"field": "y", "type": "quantitative", "stack": null},
                "color": {"field": "c", "type": "nominal", "legend": null}}},
              {"transform": [{"aggregate": [{"op": "count", "as": "n"}], "groupby": ["r", "c"]}],
               "mark": {"type": "rule", "color": "black", "strokeDash": [4, 3], "strokeWidth": 1.3},
               "encoding": {"x": {"datum": 0.5}}}
            ]
          }
        }
      ]
    }
  ]
}
